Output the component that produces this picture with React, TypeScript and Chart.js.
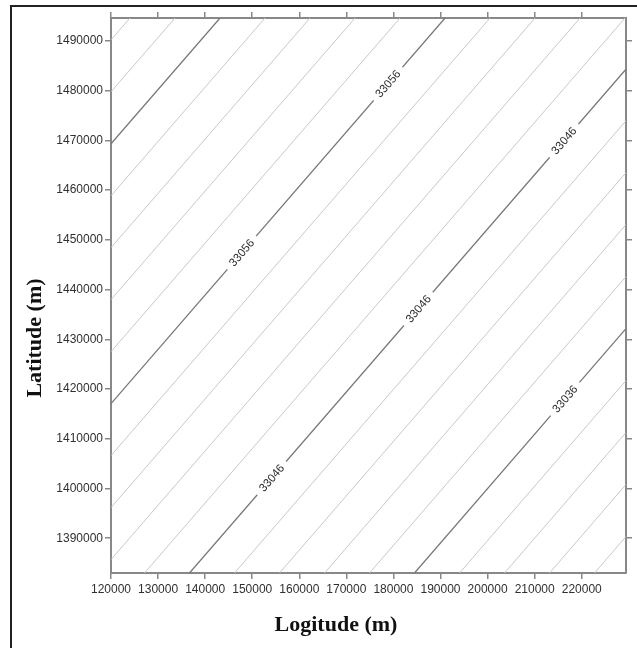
import React, { useEffect, useRef } from "react";
import { Chart, registerables } from "chart.js";

Chart.register(...registerables);

// Axis extents (m)
const X_MIN = 120000;
const X_MAX = 229400;
const Y_MIN = 1383000;
const Y_MAX = 1494600;

// Tick labels
const xTicks = [120000, 130000, 140000, 150000, 160000, 170000, 180000, 190000, 200000, 210000, 220000];
const yTicks = [1390000, 1400000, 1410000, 1420000, 1430000, 1440000, 1450000, 1460000, 1470000, 1480000, 1490000];

// Contour levels and the end points of each contour line
const levels = [33070, 33068, 33066, 33064, 33062, 33060, 33058, 33056, 33054, 33052, 33050, 33048, 33046, 33044, 33042, 33040, 33038, 33036, 33034, 33032, 33030, 33028];
const startX = [120000, 120000, 120000, 120000, 120000, 120000, 120000, 120000, 120000, 120000, 120000, 127120, 136680, 146240, 155800, 165360, 174920, 184480, 194040, 203600, 213160, 222720];
const startY = [1490220, 1479770, 1469310, 1458850, 1448420, 1437960, 1427500, 1417050, 1406610, 1396150, 1385700, 1383000, 1383000, 1383000, 1383000, 1383000, 1383000, 1383000, 1383000, 1383000, 1383000, 1383000];
const endX = [124040, 133600, 143160, 152720, 162280, 171840, 181400, 190960, 200520, 210080, 219640, 229200, 229400, 229400, 229400, 229400, 229400, 229400, 229400, 229400, 229400, 229400];
const endY = [1494600, 1494600, 1494600, 1494600, 1494600, 1494600, 1494600, 1494600, 1494600, 1494600, 1494600, 1494600, 1484300, 1473950, 1463500, 1453060, 1442600, 1432150, 1421690, 1411250, 1400800, 1390340];
const majorLevels = [33066, 33056, 33046, 33036];

// Contour labels: level and x position along the line
const labelLevels = [33056, 33056, 33046, 33046, 33046, 33036];
const labelX = [178850, 147770, 216240, 185290, 154140, 216450];

const MAJOR_COLOR = "#777777";
const MINOR_COLOR = "#c8c8c8";
const AXIS_COLOR = "#888888";
const TICK_FONT = { family: '"Liberation Sans", Arial, sans-serif', size: 12 };

export default function App() {
  const ref = useRef<HTMLCanvasElement | null>(null);

  useEffect(() => {
    if (!ref.current) return;

    const datasets = levels.map((lv, i) => {
      const major = majorLevels.includes(lv);
      return {
        label: String(lv),
        data: [
          { x: startX[i], y: startY[i] },
          { x: endX[i], y: endY[i] },
        ],
        showLine: true,
        pointRadius: 0,
        borderColor: major ? MAJOR_COLOR : MINOR_COLOR,
        borderWidth: major ? 1.3 : 1,
        xAxisID: "x",
        yAxisID: "y",
      };
    });

    const contourLabels = {
      id: "contourLabels",
      afterDatasetsDraw(chart: any) {
        const ctx = chart.ctx;
        const xs = chart.scales.x;
        const ys = chart.scales.y;
        ctx.save();
        ctx.beginPath();
        ctx.rect(chart.chartArea.left, chart.chartArea.top, chart.chartArea.right - chart.chartArea.left, chart.chartArea.bottom - chart.chartArea.top);
        ctx.clip();
        labelLevels.forEach((lv, k) => {
          const i = levels.indexOf(lv);
          const x0 = xs.getPixelForValue(startX[i]);
          const y0 = ys.getPixelForValue(startY[i]);
          const x1 = xs.getPixelForValue(endX[i]);
          const y1 = ys.getPixelForValue(endY[i]);
          const t = (labelX[k] - startX[i]) / (endX[i] - startX[i]);
          const dy = startY[i] + t * (endY[i] - startY[i]);
          const px = xs.getPixelForValue(labelX[k]);
          const py = ys.getPixelForValue(dy);
          const ang = Math.atan2(y1 - y0, x1 - x0);
          ctx.save();
          ctx.translate(px, py);
          ctx.rotate(ang);
          ctx.font = '11.5px "Liberation Sans", Arial, sans-serif';
          const text = String(lv);
          const w = ctx.measureText(text).width;
          ctx.fillStyle = "#ffffff";
          ctx.fillRect(-w / 2 - 6, -6, w + 12, 12);
          ctx.fillStyle = "#2e2e2e";
          ctx.textAlign = "center";
          ctx.textBaseline = "middle";
          ctx.fillText(text, 0, 0.5);
          ctx.restore();
        });
        ctx.restore();
      },
    };

    const decorations = {
      id: "decorations",
      afterDraw(chart: any) {
        const ctx = chart.ctx;
        ctx.save();
        // outer frame
        ctx.strokeStyle = "#222222";
        ctx.lineWidth = 2;
        ctx.beginPath();
        ctx.moveTo(11, 648);
        ctx.lineTo(11, 6);
        ctx.lineTo(637, 6);
        ctx.stroke();
        // titles
        ctx.fillStyle = "#111111";
        ctx.font = 'bold 22px "Liberation Serif", "Times New Roman", serif';
        ctx.textAlign = "center";
        ctx.textBaseline = "alphabetic";
        ctx.fillText("Logitude (m)", 336, 631);
        ctx.save();
        ctx.translate(41, 338);
        ctx.rotate(-Math.PI / 2);
        ctx.fillText("Latitude (m)", 0, 0);
        ctx.restore();
        ctx.restore();
      },
    };

    const gridOpts = {
      drawOnChartArea: false,
      drawTicks: true,
      tickLength: 6,
      color: AXIS_COLOR,
      lineWidth: 1.5,
    };
    const borderOpts = { display: true, color: AXIS_COLOR, width: 2 };

    const chart = new Chart(ref.current, {
      type: "scatter",
      data: { datasets },
      plugins: [contourLabels, decorations],
      options: {
        animation: false,
        responsive: false,
        devicePixelRatio: 1,
        layout: { padding: 0 },
        plugins: {
          legend: { display: false },
          tooltip: { enabled: false },
        },
        scales: {
          x: {
            type: "linear",
            axis: "x",
            position: "bottom",
            min: X_MIN,
            max: X_MAX,
            afterBuildTicks: (s: any) => {
              s.ticks = xTicks.map((v) => ({ value: v }));
            },
            afterFit: (s: any) => {
              s.height = 75;
            },
            ticks: {
              font: TICK_FONT,
              color: "#303030",
              padding: 3,
              maxRotation: 0,
              autoSkip: false,
              callback: (v: any) => String(v),
            },
            grid: gridOpts,
            border: borderOpts,
          },
          x2: {
            type: "linear",
            axis: "x",
            position: "top",
            min: X_MIN,
            max: X_MAX,
            afterBuildTicks: (s: any) => {
              s.ticks = xTicks.map((v) => ({ value: v }));
            },
            afterFit: (s: any) => {
              s.height = 18;
            },
            ticks: { display: false },
            grid: gridOpts,
            border: borderOpts,
          },
          y: {
            type: "linear",
            axis: "y",
            position: "left",
            min: Y_MIN,
            max: Y_MAX,
            afterBuildTicks: (s: any) => {
              s.ticks = yTicks.map((v) => ({ value: v }));
            },
            afterFit: (s: any) => {
              s.width = 111;
            },
            ticks: {
              font: TICK_FONT,
              color: "#303030",
              padding: 2,
              autoSkip: false,
              callback: (v: any) => String(v),
            },
            grid: gridOpts,
            border: borderOpts,
          },
          y2: {
            type: "linear",
            axis: "y",
            position: "right",
            min: Y_MIN,
            max: Y_MAX,
            afterBuildTicks: (s: any) => {
              s.ticks = yTicks.map((v) => ({ value: v }));
            },
            afterFit: (s: any) => {
              s.width = 11;
            },
            ticks: { display: false },
            grid: gridOpts,
            border: borderOpts,
          },
        },
      } as any,
    });

    return () => {
      chart.destroy();
    };
  }, []);

  return (
    <div style={{ position: "absolute", left: 0, top: 0, width: 637, height: 648, background: "#ffffff" }}>
      <canvas ref={ref} width={637} height={648} style={{ display: "block" }} />
    </div>
  );
}
